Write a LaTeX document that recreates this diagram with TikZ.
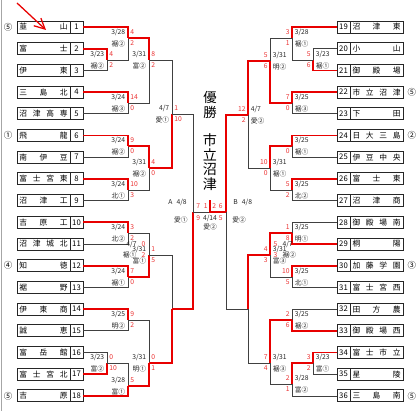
\documentclass[tikz,border=0pt]{standalone}
\usepackage{fontspec}
\setmainfont{Noto Sans CJK JP}
\usetikzlibrary{calc,positioning,arrows.meta}

\definecolor{scorered}{RGB}{235,50,50}
\definecolor{linered}{RGB}{232,0,0}

% spread the letters of a school name over the box
\def\spreadA#1#2{#1\ifx\relax#2\else\hfill\expandafter\spreadA\expandafter#2\fi}
\newcommand{\spreadname}[1]{\makebox[1.2cm]{\expandafter\spreadA#1\relax}}

\tikzset{
	namebox/.style={draw=black!85, line width=0.6pt, minimum width=1.325cm, minimum height=0.3cm, inner sep=0pt, font=\fontsize{5.5}{6}\selectfont},
	numbox/.style={draw=black!85, line width=0.6pt, minimum width=0.325cm, minimum height=0.3cm, inner sep=0pt, font=\fontsize{5.5}{6}\selectfont},
	seed/.style={inner sep=0pt, font=\fontsize{6}{6}\selectfont},
	lose/.style={draw=black!75, line width=0.55pt},
	win/.style={draw=linered, line width=1.15pt},
	datetxt/.style={inner sep=0pt, font=\fontsize{4.8}{5}\selectfont, text=black!85},
	scoretxt/.style={inner sep=0pt, font=\fontsize{4.8}{5}\selectfont, text=scorered},
}

% one game: winner side, loser side, meeting point
\newcommand{\duel}[3]{%
	\draw[lose] (#2) -| (#3);
	\draw[win] (#1) -| (#3);
}
% labels of a game, left half
\newcommand{\linfo}[5]{%
	\node[datetxt, anchor=east] (#1d) at ($(#1)+(-2.5,-5.5)$) {#2};
	\node[datetxt, anchor=east] (#1v) at ($(#1)+(-2.5,5.5)$) {#3};
	\node[scoretxt, anchor=west] (#1s) at ($(#1)+(2,-5.5)$) {#4};
	\node[scoretxt, anchor=west] (#1t) at ($(#1)+(2,5.5)$) {#5};
}
% labels of a game, right half
\newcommand{\rinfo}[5]{%
	\node[datetxt, anchor=west] (#1d) at ($(#1)+(2.5,-5.5)$) {#2};
	\node[datetxt, anchor=west] (#1v) at ($(#1)+(2.5,5.5)$) {#3};
	\node[scoretxt, anchor=east] (#1s) at ($(#1)+(-2,-5.5)$) {#4};
	\node[scoretxt, anchor=east] (#1t) at ($(#1)+(-2,5.5)$) {#5};
}

\begin{document}
\begin{tikzpicture}[x=0.025cm, y=-0.025cm]
	\useasboundingbox (0,0) rectangle (420,411);
	\draw[black!35, line width=0.8pt] (1.5,0) -- (1.5,411);
	%
	% teams
	\foreach \i/\nm in {1/韮山,2/富士,3/伊東,4/三島北,5/沼津高専,6/飛龍,7/南伊豆,8/富士宮東,9/沼津工,10/吉原工,11/沼津城北,12/知徳,13/裾野,14/伊東商,15/誠恵,16/富岳館,17/富士宮北,18/吉原}{
		\pgfmathsetmacro{\yy}{27+(\i-1)*21.7}
		\node[namebox] (n\i) at (43.5,\yy) {\spreadname{\nm}};
		\node[numbox] (t\i) at (76.5,\yy) {\i};
	}
	\foreach \i/\nm in {19/沼津東,20/小山,21/御殿場,22/市立沼津,23/下田,24/日大三島,25/伊豆中央,26/富士東,27/沼津商,28/御殿場南,29/桐陽,30/加藤学園,31/富士宮西,32/田方農,33/御殿場西,34/富士市立,35/星陵,36/三島南}{
		\pgfmathsetmacro{\yy}{27+(\i-19)*21.7}
		\node[numbox] (t\i) at (343.5,\yy) {\i};
		\node[namebox] (n\i) at (376.5,\yy) {\spreadname{\nm}};
	}
	%
	% seeds
	\node[seed, left=0.1cm of n1] (k1) {⑤};
	\node[seed, left=0.1cm of n6] (k6) {①};
	\node[seed, left=0.1cm of n12] (k12) {④};
	\node[seed, left=0.1cm of n18] (k18) {⑤};
	\node[seed, right=0.1cm of n22] (k22) {⑤};
	\node[seed, right=0.1cm of n24] (k24) {②};
	\node[seed, right=0.1cm of n30] (k30) {③};
	\node[seed, right=0.1cm of n36] (k36) {⑤};
	%
	% red pointer
	\coordinate (arr0) at (17,3);
	\coordinate (arr1) at (46,30);
	\draw[linered, line width=0.9pt, -{Straight Barb[length=2.6mm, width=2.6mm]}] (arr0) -- (arr1);
	%
	% meeting points, left half
	\coordinate (m23) at (107,60);
	\coordinate (m1) at (128,38);
	\coordinate (m45) at (128,103);
	\coordinate (mLa) at (149,60);
	\coordinate (m67) at (128,146);
	\coordinate (m89) at (128,190);
	\coordinate (mLb) at (149,168);
	\coordinate (mLab) at (172,114);
	\coordinate (m1011) at (128,233);
	\coordinate (m1213) at (128,277);
	\coordinate (mLc) at (149,255);
	\coordinate (m1415) at (128,320);
	\coordinate (m1617) at (107,363);
	\coordinate (m18) at (128,386);
	\coordinate (mLd) at (149,363);
	\coordinate (mLcd) at (172,309);
	\coordinate (mA) at (193,212);
	%
	% meeting points, right half
	\coordinate (m2021) at (313,60);
	\coordinate (m19) at (292,38);
	\coordinate (m2223) at (292,103);
	\coordinate (mRa) at (270,61);
	\coordinate (m2425) at (292,146);
	\coordinate (m2627) at (292,190);
	\coordinate (mRb) at (270,168);
	\coordinate (mRab) at (248,115);
	\coordinate (m2829) at (292,233);
	\coordinate (m3031) at (292,277);
	\coordinate (mRc) at (270,255);
	\coordinate (m3233) at (292,320);
	\coordinate (m3435) at (313,363);
	\coordinate (m36) at (292,384);
	\coordinate (mRd) at (270,363);
	\coordinate (mRcd) at (248,309);
	\coordinate (mB) at (226,212);
	\coordinate (mF) at (210,212);
	\coordinate (mT) at (210,200);
	%
	% left half
	\duel{t2.east}{t3.east}{m23}
	\duel{t1.east}{m23}{m1}
	\duel{t4.east}{t5.east}{m45}
	\duel{m1}{m45}{mLa}
	\duel{t6.east}{t7.east}{m67}
	\duel{t8.east}{t9.east}{m89}
	\duel{m67}{m89}{mLb}
	\duel{mLb}{mLa}{mLab}
	\duel{t10.east}{t11.east}{m1011}
	\duel{t12.east}{t13.east}{m1213}
	\duel{m1213}{m1011}{mLc}
	\duel{t14.east}{t15.east}{m1415}
	\duel{t17.east}{t16.east}{m1617}
	\duel{t18.east}{m1617}{m18}
	\duel{m18}{m1415}{mLd}
	\duel{mLd}{mLc}{mLcd}
	\duel{mLcd}{mLab}{mA}
	%
	% right half
	\duel{t21.west}{t20.west}{m2021}
	\duel{t19.west}{m2021}{m19}
	\duel{t22.west}{t23.west}{m2223}
	\duel{m2223}{m19}{mRa}
	\duel{t24.west}{t25.west}{m2425}
	\duel{t26.west}{t27.west}{m2627}
	\duel{m2425}{m2627}{mRb}
	\duel{mRa}{mRb}{mRab}
	\duel{t29.west}{t28.west}{m2829}
	\duel{t30.west}{t31.west}{m3031}
	\duel{m2829}{m3031}{mRc}
	\duel{t33.west}{t32.west}{m3233}
	\duel{t34.west}{t35.west}{m3435}
	\duel{m3435}{t36.west}{m36}
	\duel{m3233}{m36}{mRd}
	\duel{mRc}{mRd}{mRcd}
	\duel{mRab}{mRcd}{mB}
	%
	% final
	\draw[lose] (mA) -- (mF);
	\draw[win] (mB) -- (mF) -- (mT);
	%
	% dates, fields, scores
	\linfo{m23}{3/23}{裾②}{4}{2}
	\linfo{m1}{3/28}{裾②}{4}{2}
	\linfo{m45}{3/24}{裾③}{14}{0}
	\linfo{mLa}{3/31}{富②}{8}{2}
	\linfo{m67}{3/24}{裾②}{9}{0}
	\linfo{m89}{3/24}{北①}{10}{3}
	\linfo{mLb}{3/31}{裾②}{4}{0}
	\linfo{mLab}{4/7}{愛①}{1}{10}
	\linfo{m1011}{3/24}{北②}{3}{2}
	\linfo{m1213}{3/24}{裾①}{7}{0}
	\linfo{mLc}{3/31}{富①}{1}{5}
	\linfo{m1415}{3/25}{明②}{9}{2}
	\linfo{m1617}{3/23}{富②}{0}{10}
	\linfo{m18}{3/28}{富①}{5}{}
	\linfo{mLd}{3/31}{明①}{0}{1}
	\linfo{mLcd}{4/7}{裾①}{0}{2}
	%
	\rinfo{m2021}{3/23}{裾①}{5}{6}
	\rinfo{m19}{3/28}{裾①}{3}{1}
	\rinfo{m2223}{3/25}{裾③}{7}{0}
	\rinfo{mRa}{3/31}{明②}{5}{6}
	\rinfo{m2425}{3/25}{裾①}{}{0}
	\rinfo{m2627}{3/25}{北②}{5}{2}
	\rinfo{mRb}{3/31}{裾①}{10}{0}
	\rinfo{mRab}{4/7}{愛②}{12}{2}
	\rinfo{m2829}{3/25}{明①}{1}{8}
	\rinfo{m3031}{3/25}{北①}{10}{5}
	\rinfo{mRc}{3/31}{富③}{4}{3}
	\rinfo{m3233}{3/25}{裾②}{2}{6}
	\rinfo{m3435}{3/23}{富①}{3}{2}
	\rinfo{m36}{3/28}{富②}{2}{1}
	\rinfo{mRd}{3/31}{裾③}{7}{4}
	\rinfo{mRcd}{4/7}{裾②}{5}{3}
	%
	% semi-finals and final
	\node[datetxt, anchor=east] (aD) at ($(mA)+(-6,-10)$) {A\hspace{3pt}4/8};
	\node[datetxt, anchor=east] (aV) at ($(mA)+(-5,8)$) {愛①};
	\node[scoretxt, anchor=west] (aS) at ($(mA)+(3,-6)$) {7};
	\node[scoretxt, anchor=west] (aT) at ($(mA)+(3,6)$) {9};
	\node[datetxt, anchor=west] (bD) at ($(mB)+(7,-10)$) {B\hspace{3pt}4/8};
	\node[datetxt, anchor=west] (bV) at ($(mB)+(6,8)$) {愛②};
	\node[scoretxt, anchor=east] (bS) at ($(mB)+(-3,-6)$) {6};
	\node[scoretxt, anchor=east] (bT) at ($(mB)+(-3,6)$) {5};
	\node[scoretxt, anchor=east] (fS) at ($(mF)+(-2,-6)$) {1};
	\node[scoretxt, anchor=west] (fT) at ($(mF)+(2,-6)$) {2};
	\node[datetxt] (fD) at ($(mF)+(0,6)$) {4/14};
	\node[datetxt] (fV) at ($(mF)+(0,15)$) {愛②};
	%
	% champion
	\node[font=\fontsize{9.5}{10.5}\selectfont, align=center, inner sep=0pt] (yusho) at (210,105) {優\\勝};
	\node[font=\fontsize{10}{10.3}\selectfont, align=center, inner sep=0pt] (champ) at (210,162) {市\\立\\沼\\津};
\end{tikzpicture}
\end{document}
